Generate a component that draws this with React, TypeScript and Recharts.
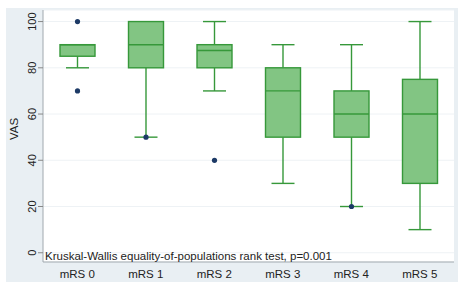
import React from 'react';
import { ComposedChart, Bar, XAxis, YAxis, CartesianGrid } from 'recharts';

const groups = ['mRS 0', 'mRS 1', 'mRS 2', 'mRS 3', 'mRS 4', 'mRS 5'];
const whiskerLow = [80, 50, 70, 30, 20, 10];
const q1 = [85, 80, 80, 50, 50, 30];
const median = [90, 90, 87.5, 70, 60, 60];
const q3 = [90, 100, 90, 80, 70, 75];
const whiskerHigh = [90, 100, 100, 90, 90, 100];
const outliers = [[100, 70], [50], [40], [], [20], []];
const yTicks = [0, 20, 40, 60, 80, 100];

const FONT = '"Liberation Sans", Arial, sans-serif';
const BOX_FILL = '#82c583';
const BOX_STROKE = '#36983a';
const DOT = '#1d3a66';

const data = groups.map((name, i) => ({
  name,
  range: [whiskerLow[i], whiskerHigh[i]],
  lo: whiskerLow[i],
  hi: whiskerHigh[i],
  q1: q1[i],
  med: median[i],
  q3: q3[i],
  out: outliers[i],
}));

// the bar spans the whiskers; the rest is placed on the same linear scale
const BoxShape = (props: any) => {
  const { x, y, width, height, payload } = props;
  const top = Math.min(y, y + height);
  const h = Math.abs(height);
  const span = payload.hi - payload.lo;
  const py = (v: number) => top + ((payload.hi - v) / span) * h;
  const cx = x + width / 2;
  const capW = 23;
  return (
    <g>
      <line x1={cx} x2={cx} y1={py(payload.hi)} y2={py(payload.q3)} stroke={BOX_STROKE} strokeWidth={1.4} />
      <line x1={cx} x2={cx} y1={py(payload.q1)} y2={py(payload.lo)} stroke={BOX_STROKE} strokeWidth={1.4} />
      {payload.hi > payload.q3 && (
        <line x1={cx - capW / 2} x2={cx + capW / 2} y1={py(payload.hi)} y2={py(payload.hi)} stroke={BOX_STROKE} strokeWidth={1.4} />
      )}
      {payload.lo < payload.q1 && (
        <line x1={cx - capW / 2} x2={cx + capW / 2} y1={py(payload.lo)} y2={py(payload.lo)} stroke={BOX_STROKE} strokeWidth={1.4} />
      )}
      <rect x={x} y={py(payload.q3)} width={width} height={py(payload.q1) - py(payload.q3)} fill={BOX_FILL} stroke={BOX_STROKE} strokeWidth={1.4} />
      <line x1={x} x2={x + width} y1={py(payload.med)} y2={py(payload.med)} stroke={BOX_STROKE} strokeWidth={1.4} />
      {payload.out.map((v: number, k: number) => (
        <circle key={k} cx={cx} cy={py(v)} r={2.6} fill={DOT} />
      ))}
    </g>
  );
};

const YTick = (props: any) => {
  const { x, y, payload } = props;
  return (
    <text x={x} y={y} transform={`rotate(-90 ${x} ${y})`} textAnchor="middle" fontSize={11} fill="#222" fontFamily={FONT}>
      {payload.value}
    </text>
  );
};

export default function App() {
  return (
    <div style={{ position: 'absolute', left: 0, top: 0, width: 463, height: 286, background: '#fff', fontFamily: FONT }}>
      <div style={{ position: 'absolute', left: 6, top: 8, width: 452, height: 274, background: '#e9eff3' }} />
      <div style={{ position: 'absolute', left: 0, top: 0 }}>
        <ComposedChart width={463} height={286} data={data} margin={{ top: 10, right: 9, bottom: 0, left: 0 }}>
          <CartesianGrid vertical={false} stroke="#eef2f5" fill="#ffffff" />
          <XAxis
            dataKey="name"
            height={24}
            tickSize={0}
            tickMargin={8}
            axisLine={{ stroke: '#a0a8ae' }}
            tick={{ fontSize: 11.5, fill: '#222', fontFamily: FONT }}
          />
          <YAxis
            width={43}
            domain={[-4, 105]}
            ticks={yTicks}
            tickSize={5}
            tickMargin={2}
            axisLine={{ stroke: '#a0a8ae' }}
            tickLine={{ stroke: '#888' }}
            tick={<YTick />}
          />
          <Bar dataKey="range" barSize={35} shape={<BoxShape />} isAnimationActive={false} />
        </ComposedChart>
      </div>
      <div style={{ position: 'absolute', left: 2, top: 121, width: 24, height: 16, transform: 'rotate(-90deg)', fontSize: 11.5, color: '#222', textAlign: 'center', lineHeight: '16px' }}>
        VAS
      </div>
      <div style={{ position: 'absolute', left: 45, top: 250, fontSize: 11.5, color: '#222', lineHeight: '12px', whiteSpace: 'nowrap' }}>
        Kruskal-Wallis equality-of-populations rank test, p=0.001
      </div>
    </div>
  );
}
